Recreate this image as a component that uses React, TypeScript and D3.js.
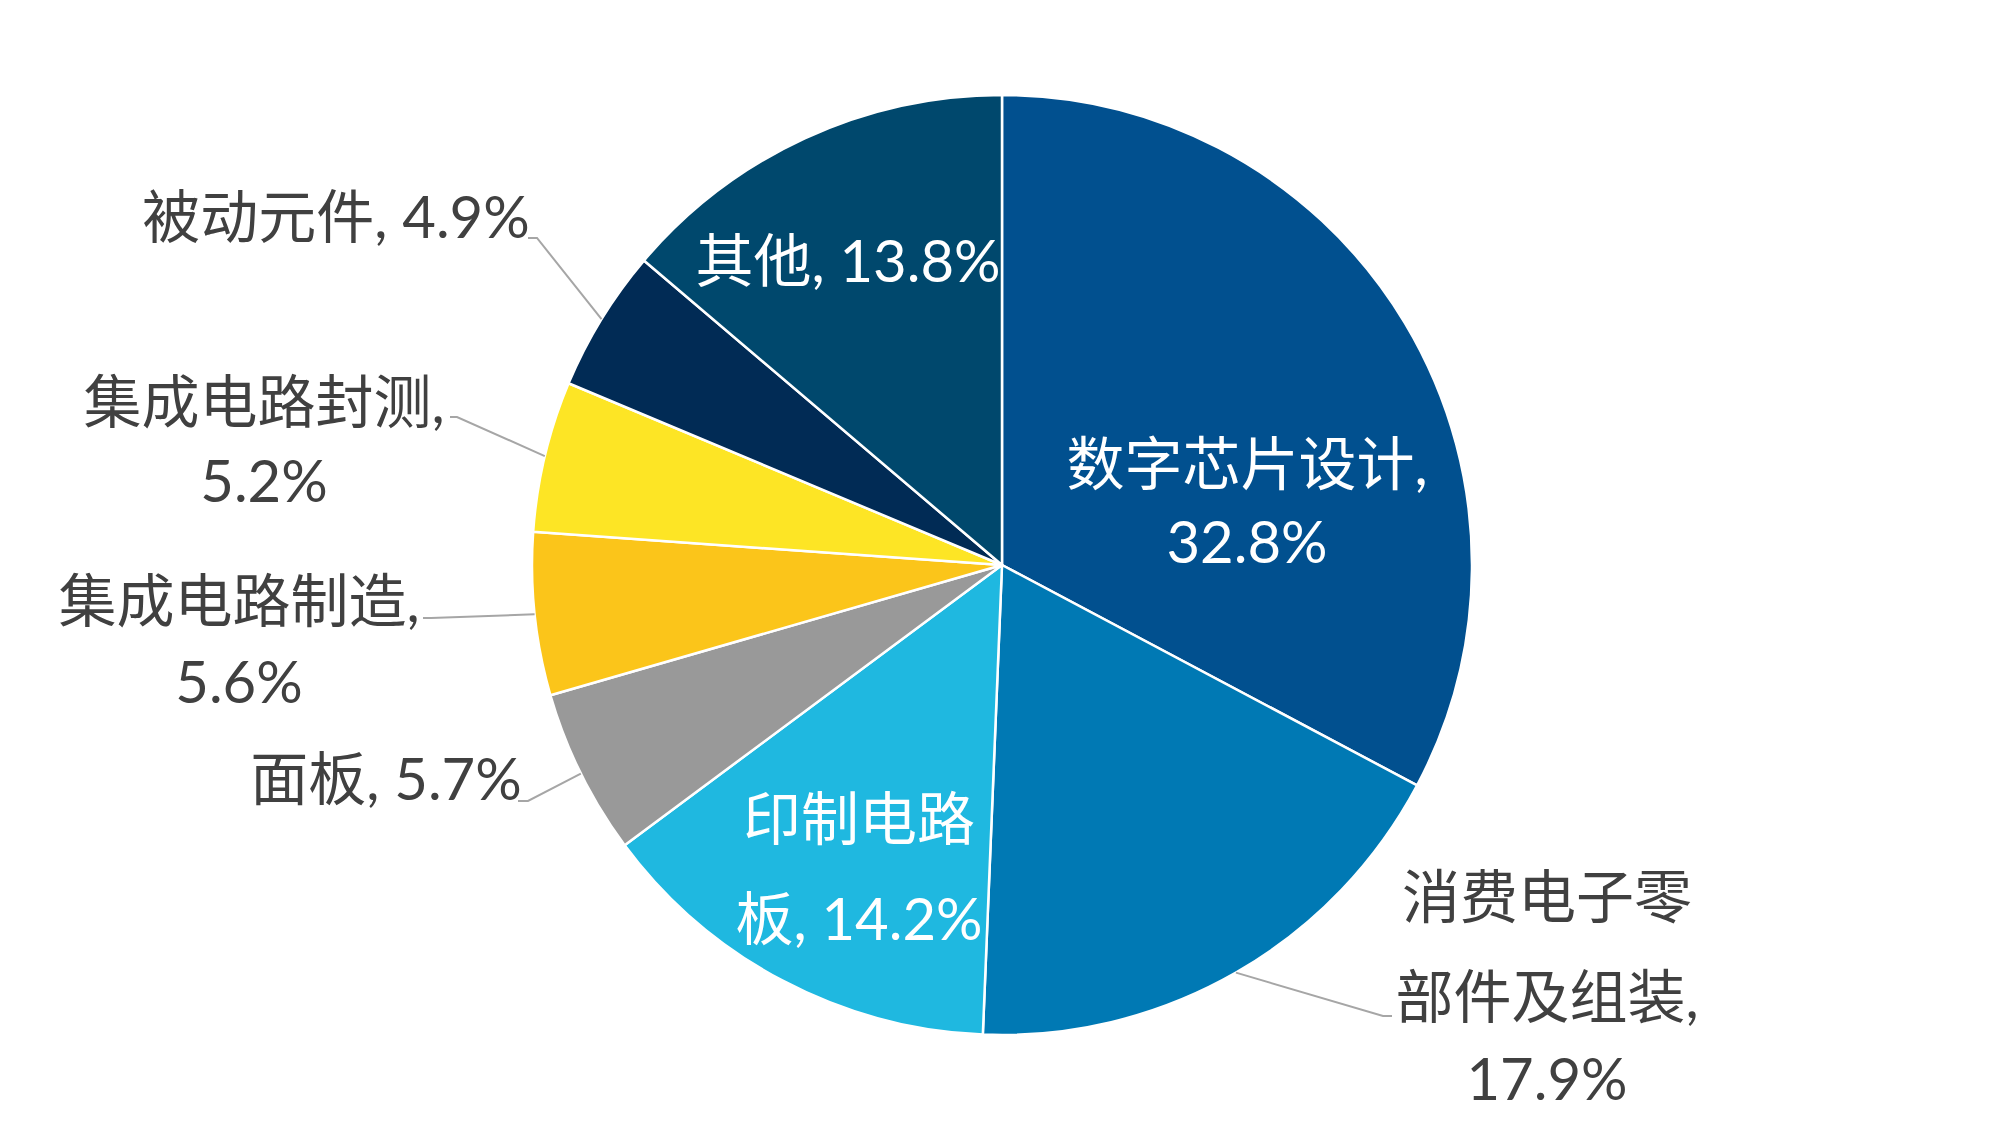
import React from "react";
import * as d3 from "d3";

// ---- data ----
const categories = [
  "数字芯片设计",
  "消费电子零部件及组装",
  "印制电路板",
  "面板",
  "集成电路制造",
  "集成电路封测",
  "被动元件",
  "其他",
];
const shares = [32.8, 17.9, 14.2, 5.7, 5.6, 5.2, 4.9, 13.8];
const colors = [
  "#01508F",
  "#0079B4",
  "#1FB8E0",
  "#999999",
  "#FBC51A",
  "#FDE525",
  "#012B55",
  "#00486D",
];

// ---- label layout (positions only) ----
type LabelLayout = {
  cx: number;
  baselines: number[];
  breaks: number[];
  inside: boolean;
  leader?: { x0: number; y0: number; x1: number };
};
const labelLayout: LabelLayout[] = [
  { cx: 1247, baselines: [485, 563], breaks: [7], inside: true },
  {
    cx: 1547,
    baselines: [918, 1018, 1100],
    breaks: [5, 11],
    inside: false,
    leader: { x0: 1392, y0: 1016, x1: 1383 },
  },
  { cx: 859, baselines: [840, 940], breaks: [4], inside: true },
  {
    cx: 386,
    baselines: [800],
    breaks: [],
    inside: false,
    leader: { x0: 518, y0: 801, x1: 528 },
  },
  {
    cx: 239,
    baselines: [622, 703],
    breaks: [7],
    inside: false,
    leader: { x0: 423, y0: 618, x1: 431 },
  },
  {
    cx: 264,
    baselines: [423, 502],
    breaks: [7],
    inside: false,
    leader: { x0: 450, y0: 417, x1: 457 },
  },
  {
    cx: 336,
    baselines: [238],
    breaks: [],
    inside: false,
    leader: { x0: 528, y0: 238, x1: 537 },
  },
  { cx: 848, baselines: [282], breaks: [], inside: true },
];

const W = 2000;
const H = 1125;
const CX = 1002;
const CY = 565;
const R = 470;
const FONT = "Lato, 'Noto Sans CJK SC', sans-serif";
const FONT_SIZE = 58;

function splitLabel(text: string, breaks: number[]): string[] {
  const out: string[] = [];
  let prev = 0;
  for (const b of breaks) {
    out.push(text.slice(prev, b).trim());
    prev = b;
  }
  out.push(text.slice(prev).trim());
  return out;
}

export default function App() {
  const data = categories.map((c, i) => ({ name: c, value: shares[i], color: colors[i] }));
  const pie = d3
    .pie<{ name: string; value: number; color: string }>()
    .sort(null)
    .value((d) => d.value)
    .startAngle(0)
    .endAngle(2 * Math.PI);
  const arcs = pie(data);
  const arcGen = d3
    .arc<d3.PieArcDatum<{ name: string; value: number; color: string }>>()
    .innerRadius(0)
    .outerRadius(R);

  return (
    <svg
      width={W}
      height={H}
      viewBox={`0 0 ${W} ${H}`}
      style={{ position: "absolute", left: 0, top: 0, background: "#fff" }}
    >
      <rect x={0} y={0} width={W} height={H} fill="#ffffff" />
      <g transform={`translate(${CX},${CY})`}>
        {arcs.map((a, i) => (
          <path
            key={i}
            d={arcGen(a) || ""}
            fill={a.data.color}
            stroke="#ffffff"
            strokeWidth={2.5}
            strokeLinejoin="round"
          />
        ))}
      </g>
      {arcs.map((a, i) => {
        const lay = labelLayout[i];
        if (!lay.leader) return null;
        const mid = (a.startAngle + a.endAngle) / 2;
        const ex = CX + R * Math.sin(mid);
        const ey = CY - R * Math.cos(mid);
        const { x0, y0, x1 } = lay.leader;
        return (
          <polyline
            key={`l${i}`}
            points={`${x0},${y0} ${x1},${y0} ${ex},${ey}`}
            fill="none"
            stroke="#A6A6A6"
            strokeWidth={2}
          />
        );
      })}
      {arcs.map((a, i) => {
        const lay = labelLayout[i];
        const text = `${a.data.name}, ${a.data.value.toFixed(1)}%`;
        const lines = splitLabel(text, lay.breaks);
        return (
          <text
            key={`t${i}`}
            textAnchor="middle"
            fontFamily={FONT}
            fontSize={FONT_SIZE}
            fill={lay.inside ? "#ffffff" : "#404040"}
          >
            {lines.map((ln, j) => (
              <tspan key={j} x={lay.cx} y={lay.baselines[j]}>
                {ln}
              </tspan>
            ))}
          </text>
        );
      })}
    </svg>
  );
}
